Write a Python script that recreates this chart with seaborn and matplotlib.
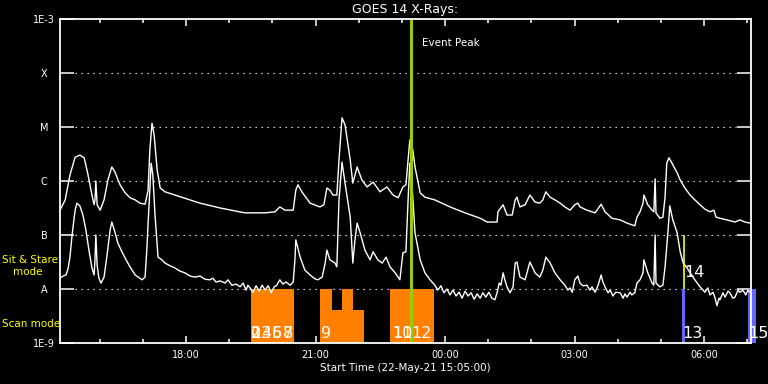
import numpy as np
import pandas as pd
import matplotlib
matplotlib.use("Agg")
import matplotlib.pyplot as plt
from matplotlib.ticker import NullLocator
import seaborn as sns

# ---------------- data (hours since 22-May-21 15:05:00, log10 flux W/m^2) ----------------
long_t = [0.00, 0.12, 0.23, 0.35, 0.46, 0.56, 0.65, 0.74, 0.79, 0.81, 0.83, 0.86, 0.93, 1.02, 1.11,
          1.20, 1.27, 1.39, 1.51, 1.62, 1.74, 1.85, 1.97, 2.04, 2.08, 2.13, 2.18, 2.25, 2.32, 2.43,
          2.66, 3.01, 3.24, 3.71, 4.28, 4.63, 4.75, 4.98, 5.09, 5.21, 5.40, 5.46, 5.51, 5.60, 5.79,
          6.02, 6.11, 6.18, 6.25, 6.32, 6.41, 6.46, 6.53, 6.60, 6.72, 6.78, 6.88, 6.99, 7.11, 7.25,
          7.41, 7.57, 7.71, 7.83, 7.94, 8.01, 8.10, 8.17, 8.22, 8.34, 8.45, 8.68, 9.03, 9.38, 9.73,
          9.89, 10.12, 10.14, 10.26, 10.35, 10.47, 10.54, 10.58, 10.65, 10.77, 10.88, 11.00, 11.11,
          11.18, 11.25, 11.35, 11.46, 11.58, 11.69, 11.81, 11.92, 11.99, 12.04, 12.20, 12.39, 12.53,
          12.62, 12.78, 12.97, 13.13, 13.31, 13.36, 13.43, 13.50, 13.52, 13.61, 13.71, 13.75, 13.78,
          13.80, 13.89, 13.96, 14.01, 14.05, 14.10, 14.17, 14.29, 14.36, 14.47, 14.59, 14.70, 14.82,
          14.93, 15.05, 15.14, 15.19, 15.28, 15.44, 15.63, 15.74, 15.86, 15.98]
long_logf = [-6.54, -6.35, -5.89, -5.56, -5.52, -5.57, -5.89, -6.26, -6.44, -6.35, -6.00, -6.44, -6.54,
             -6.35, -5.98, -5.74, -5.83, -6.07, -6.22, -6.31, -6.35, -6.41, -6.43, -6.17, -5.43, -4.93,
             -5.15, -5.80, -6.13, -6.20, -6.26, -6.35, -6.41, -6.50, -6.59, -6.59, -6.59, -6.57, -6.48,
             -6.54, -6.54, -6.17, -6.07, -6.20, -6.41, -6.48, -6.44, -6.13, -6.17, -6.26, -6.26, -5.61,
             -4.83, -4.96, -5.61, -6.04, -5.74, -5.98, -6.11, -6.02, -6.20, -6.11, -6.26, -6.31, -6.11,
             -6.07, -5.24, -5.43, -5.74, -6.22, -6.30, -6.35, -6.48, -6.59, -6.69, -6.76, -6.76, -6.57,
             -6.44, -6.63, -6.63, -6.35, -6.30, -6.48, -6.44, -6.26, -6.39, -6.41, -6.35, -6.20, -6.30,
             -6.35, -6.41, -6.48, -6.54, -6.44, -6.41, -6.48, -6.54, -6.59, -6.43, -6.57, -6.69, -6.72,
             -6.78, -6.83, -6.67, -6.57, -6.41, -6.26, -6.44, -6.54, -6.57, -5.96, -6.59, -6.69, -6.67,
             -6.30, -5.67, -5.57, -5.67, -5.85, -5.98, -6.13, -6.26, -6.35, -6.44, -6.52, -6.57, -6.54,
             -6.67, -6.69, -6.72, -6.76, -6.72, -6.76, -6.78]

short_t = [0.00, 0.07, 0.14, 0.19, 0.23, 0.28, 0.35, 0.39, 0.46, 0.53, 0.60, 0.67, 0.74, 0.79, 0.81,
           0.83, 0.86, 0.90, 0.95, 1.02, 1.09, 1.16, 1.20, 1.27, 1.34, 1.44, 1.53, 1.62, 1.74, 1.81,
           1.90, 1.97, 2.01, 2.04, 2.08, 2.11, 2.15, 2.20, 2.27, 2.36, 2.43, 2.55, 2.66, 2.78, 2.89,
           3.01, 3.13, 3.24, 3.36, 3.47, 3.54, 3.61, 3.71, 3.82, 3.89, 3.98, 4.08, 4.17, 4.24, 4.31,
           4.35, 4.40, 4.47, 4.54, 4.61, 4.68, 4.75, 4.82, 4.89, 4.96, 5.02, 5.09, 5.16, 5.23, 5.33,
           5.40, 5.44, 5.46, 5.56, 5.67, 5.79, 5.90, 5.97, 6.07, 6.14, 6.18, 6.25, 6.37, 6.41, 6.46,
           6.53, 6.60, 6.72, 6.78, 6.83, 6.88, 6.95, 7.06, 7.18, 7.25, 7.36, 7.46, 7.55, 7.64, 7.76,
           7.87, 7.94, 8.01, 8.06, 8.10, 8.15, 8.22, 8.34, 8.45, 8.57, 8.68, 8.75, 8.82, 8.89, 8.96,
           9.03, 9.10, 9.17, 9.24, 9.31, 9.38, 9.45, 9.52, 9.59, 9.66, 9.73, 9.79, 9.86, 9.93, 10.00,
           10.07, 10.12, 10.17, 10.21, 10.26, 10.30, 10.35, 10.42, 10.49, 10.54, 10.58, 10.65, 10.77,
           10.88, 11.00, 11.11, 11.18, 11.25, 11.35, 11.46, 11.58, 11.69, 11.76, 11.81, 11.86, 11.92,
           11.99, 12.04, 12.11, 12.20, 12.27, 12.32, 12.39, 12.46, 12.53, 12.57, 12.62, 12.69, 12.74,
           12.80, 12.87, 12.97, 13.04, 13.08, 13.13, 13.20, 13.24, 13.31, 13.36, 13.43, 13.50, 13.52,
           13.57, 13.61, 13.71, 13.75, 13.78, 13.80, 13.89, 13.96, 14.01, 14.08, 14.12, 14.19, 14.29,
           14.36, 14.43, 14.52, 14.59, 14.70, 14.82, 14.89, 14.93, 15.00, 15.05, 15.12, 15.17, 15.21,
           15.26, 15.28, 15.35, 15.40, 15.47, 15.51, 15.58, 15.63, 15.70, 15.74, 15.81, 15.88, 15.93,
           15.98]
short_logf = [-7.80, -7.76, -7.74, -7.61, -7.41, -7.00, -6.54, -6.41, -6.46, -6.63, -6.91, -7.28, -7.61,
              -7.74, -7.46, -7.00, -7.56, -7.80, -7.89, -7.78, -7.37, -6.91, -6.76, -6.94, -7.15, -7.32,
              -7.46, -7.59, -7.74, -7.78, -7.83, -7.78, -7.28, -6.78, -6.17, -5.67, -5.89, -6.63, -7.41,
              -7.46, -7.52, -7.57, -7.61, -7.67, -7.70, -7.76, -7.78, -7.76, -7.82, -7.83, -7.80, -7.87,
              -7.85, -7.89, -7.83, -7.93, -7.91, -7.96, -7.89, -8.02, -7.93, -7.98, -8.06, -7.94, -8.04,
              -7.93, -8.02, -7.94, -8.07, -7.96, -7.93, -7.83, -7.91, -7.87, -7.93, -7.87, -7.46, -7.09,
              -7.41, -7.65, -7.74, -7.81, -7.83, -7.78, -7.52, -7.28, -7.46, -7.52, -7.59, -6.35, -5.65,
              -6.04, -6.67, -7.52, -7.09, -6.78, -6.96, -7.28, -7.46, -7.31, -7.46, -7.52, -7.41, -7.59,
              -7.70, -7.83, -7.33, -7.31, -6.35, -5.67, -6.07, -6.96, -7.46, -7.70, -7.83, -7.93, -8.02,
              -7.94, -8.07, -8.00, -8.11, -8.02, -8.13, -8.06, -8.17, -8.04, -8.13, -8.07, -8.19, -8.09,
              -8.17, -8.07, -8.15, -8.06, -8.17, -8.20, -8.07, -7.89, -7.93, -7.70, -7.83, -7.96, -8.07,
              -7.96, -7.52, -7.50, -7.78, -7.83, -7.50, -7.70, -7.78, -7.65, -7.41, -7.52, -7.70, -7.83,
              -7.93, -8.02, -7.98, -8.06, -7.83, -7.76, -7.89, -7.94, -7.93, -8.02, -7.96, -8.06, -7.93,
              -7.74, -7.87, -7.96, -8.07, -8.02, -8.13, -8.06, -8.07, -8.17, -8.09, -8.15, -8.06, -8.11,
              -8.07, -7.89, -7.83, -7.70, -7.46, -7.59, -7.70, -7.89, -7.93, -7.00, -7.89, -7.96, -7.93,
              -7.59, -6.91, -6.46, -6.72, -6.96, -7.31, -7.52, -7.61, -7.70, -7.83, -7.96, -8.02, -8.06,
              -7.98, -8.11, -8.06, -8.17, -8.31, -8.17, -8.20, -8.07, -8.15, -8.04, -8.07, -8.17, -8.15,
              -8.02, -8.06, -8.02, -8.11, -8.02, -8.06]

# scan-mode rasters (orange)
scan_start = [4.42, 6.02, 6.30, 6.53, 6.78, 7.64]
scan_end = [5.42, 6.30, 6.53, 6.78, 7.04, 8.66]
scan_top_log = [-8.00, -8.00, -8.39, -8.00, -8.39, -8.00]
scan_labels = ["0", "1", "2", "3", "4", "5", "6", "7", "8", "9", "10", "11", "12"]
scan_label_t = [4.42, 4.42, 4.42, 4.65, 4.65, 4.91, 4.91, 5.16, 5.16, 6.04, 7.69, 7.69, 8.13]

# other rasters (blue)
blue_start = [14.40, 15.93]
blue_end = [14.47, 16.11]
blue_labels = ["13", "15"]

# sit & stare raster
stare_t = 14.45
stare_range_log = [-7.0, -8.0]
stare_label = "14"

event_peak_t = 8.12

y_tick_vals = [1e-9, 1e-8, 1e-7, 1e-6, 1e-5, 1e-4, 1e-3]
y_tick_labels = ["1E-9", "A", "B", "C", "M", "X", "1E-3"]
x_tick_labels = ["18:00", "21:00", "00:00", "03:00", "06:00"]
start_clock = 15 + 5 / 60.0

# ---------------- style ----------------
sns.set_style("white")
plt.rcParams["font.family"] = ["DejaVu Sans"]
plt.rcParams["text.color"] = "white"

ORANGE = "#ff8000"
BLUE = "#6464ff"
PEAK = "#9acd00"
YELLOW = "#ffff00"

fig = plt.figure(figsize=(7.68, 3.84), dpi=100, facecolor="black")
ax = fig.add_axes([60 / 768, 41 / 384, 691 / 768, 324 / 384])
ax.set_facecolor("black")

df_long = pd.DataFrame({"t": long_t, "flux": 10 ** np.array(long_logf)})
df_short = pd.DataFrame({"t": short_t, "flux": 10 ** np.array(short_logf)})

ax.set_yscale("log")

# dotted level lines
for v in y_tick_vals[1:-1]:
    ax.axhline(v, xmin=15 / 691, xmax=676 / 691, color="white", lw=0.8,
               dashes=(1.2, 4.2), zorder=0.5)

# scan rasters
heights = [10 ** t - 1e-9 for t in scan_top_log]
ax.bar(scan_start, heights, width=np.array(scan_end) - np.array(scan_start),
       bottom=1e-9, align="edge", color=ORANGE, linewidth=0, zorder=1)
ax.bar(blue_start, [1e-8 - 1e-9] * len(blue_start),
       width=np.array(blue_end) - np.array(blue_start),
       bottom=1e-9, align="edge", color=BLUE, linewidth=0, zorder=1, clip_on=False)

sns.lineplot(data=df_long, x="t", y="flux", ax=ax, color="white", lw=1.0,
             estimator=None, sort=False, zorder=2)
sns.lineplot(data=df_short, x="t", y="flux", ax=ax, color="white", lw=1.0,
             estimator=None, sort=False, zorder=2)

ax.vlines(stare_t, 10 ** stare_range_log[1], 10 ** stare_range_log[0], color=YELLOW, lw=1.2, zorder=3)
ax.axvline(event_peak_t, color=PEAK, lw=2.2, zorder=3)

lab_y = 10 ** -8.82
LABEL_FS = 11.5
for lab, t in zip(scan_labels, scan_label_t):
    ax.text(t, lab_y, lab, color="white", fontsize=LABEL_FS,
            ha="left", va="center", zorder=6)
for lab, t in zip(blue_labels, blue_start):
    ax.text(t, lab_y, lab, color="white", fontsize=LABEL_FS,
            ha="left", va="center", zorder=6, clip_on=False)
ax.text(stare_t, 10 ** -7.69, stare_label, color="white", fontsize=LABEL_FS,
        ha="left", va="center", zorder=6)

ax.text(event_peak_t + 0.26, 10 ** -3.44, "Event Peak", color="white", fontsize=7.5,
        ha="left", va="center")

ax.set_xlim(0, 16)
ax.set_ylim(1e-9, 1e-3)

# ticks
major_pos = [((int(s[:2]) + int(s[3:]) / 60.0) - start_clock) % 24 for s in x_tick_labels]
minor_pos = [((h - start_clock) % 24) for h in range(16, 24)] + \
            [((h + 24 - start_clock)) for h in range(0, 8) if (h + 24 - start_clock) < 16]
ax.set_xticks(major_pos)
ax.set_xticklabels(x_tick_labels)
ax.set_xticks(minor_pos, minor=True)
ax.set_yticks(y_tick_vals)
ax.set_yticklabels(y_tick_labels)
ax.yaxis.set_minor_locator(NullLocator())

ax.tick_params(axis="x", which="major", direction="in", length=4.8, width=1.1,
               top=True, bottom=True, colors="white", labelsize=7, pad=5)
ax.tick_params(axis="x", which="minor", direction="in", length=2.6, width=1.1,
               top=True, bottom=True, colors="white")
ax.tick_params(axis="y", which="major", direction="in", length=10, width=1.1,
               left=True, right=True, colors="white", labelsize=7, pad=11.5)
for lab in ax.get_yticklabels():
    lab.set_horizontalalignment("center")

for s in ax.spines.values():
    s.set_color("white")
    s.set_linewidth(1.3)
    s.set_zorder(5)

ax.set_ylabel("")
ax.set_xlabel("Start Time (22-May-21 15:05:00)", color="white", fontsize=7.5, labelpad=2)
ax.set_title("GOES 14 X-Rays:", color="white", fontsize=9, pad=4)

fig.text(2 / 768, 1 - 260 / 384, "Sit & Stare", color=YELLOW, fontsize=7.5, ha="left", va="center")
fig.text(13 / 768, 1 - 272 / 384, "mode", color=YELLOW, fontsize=7.5, ha="left", va="center")
fig.text(2 / 768, 1 - 324 / 384, "Scan mode", color=YELLOW, fontsize=7.5, ha="left", va="center")

fig.savefig("out.png", dpi=100, facecolor="black")
